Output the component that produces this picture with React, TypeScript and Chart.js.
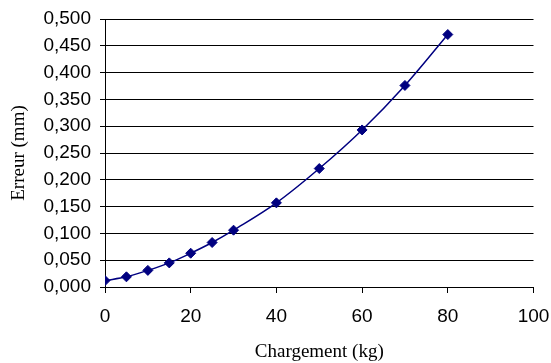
import { useEffect, useRef } from "react";
import { Chart, registerables } from "chart.js";

Chart.register(...registerables);

const loads = [0, 5, 10, 15, 20, 25, 30, 40, 50, 60, 70, 80];
const errors = [0.012, 0.019, 0.031, 0.045, 0.063, 0.083, 0.106, 0.157, 0.221, 0.293, 0.376, 0.471];
const xTitle = "Chargement (kg)";
const yTitle = "Erreur (mm)";

export default function App() {
  const ref = useRef<HTMLCanvasElement | null>(null);
  useEffect(() => {
    if (!ref.current) return;
    const navy = "#000080";
    const chart = new Chart(ref.current, {
      type: "line",
      data: {
        datasets: [
          {
            data: loads.map((x, i) => ({ x, y: errors[i] })),
            borderColor: navy,
            backgroundColor: navy,
            borderWidth: 1.5,
            tension: 0.35,
            pointStyle: "rectRot",
            pointRadius: 5,
            pointBorderWidth: 1,
            pointBackgroundColor: navy,
            pointBorderColor: navy,
          },
        ],
      },
      options: {
        responsive: false,
        animation: false,
        layout: { padding: { left: 0, top: 19, right: 17.5, bottom: 0 } },
        plugins: { legend: { display: false }, tooltip: { enabled: false } },
        scales: {
          x: {
            type: "linear",
            min: 0,
            max: 100,
            ticks: {
              stepSize: 20,
              color: "#000",
              padding: 12,
              font: { family: "'Liberation Sans', Arial, sans-serif", size: 19 },
            },
            grid: { drawOnChartArea: false, drawTicks: true, tickLength: 6, color: "#000" },
            border: { display: true, color: "#000", width: 1 },
            title: {
              display: true,
              text: xTitle,
              color: "#000",
              padding: { top: 0, bottom: 0 },
              font: { family: "'Liberation Serif', 'Times New Roman', serif", size: 19 },
            },
            afterFit: (s: any) => {
              s.height = 76;
              s.paddingLeft = 0;
              s.paddingRight = 0;
            },
          },
          y: {
            min: 0,
            max: 0.5,
            ticks: {
              stepSize: 0.05,
              color: "#000",
              padding: 9,
              font: { family: "'Liberation Sans', Arial, sans-serif", size: 19 },
              callback: (v: any) => Number(v).toFixed(3).replace(".", ","),
            },
            grid: { drawTicks: true, tickLength: 5, color: "#000" },
            border: { display: true, color: "#000", width: 1 },
            title: {
              display: true,
              text: yTitle,
              color: "#000",
              padding: { top: 8, bottom: 0 },
              font: { family: "'Liberation Serif', 'Times New Roman', serif", size: 19 },
            },
            afterFit: (s: any) => {
              s.width = 105;
              s.paddingTop = 0;
              s.paddingBottom = 0;
            },
          },
        },
      },
    });
    return () => chart.destroy();
  }, []);
  return (
    <div style={{ position: "fixed", left: 0, top: 0, width: 551, height: 363, background: "#fff" }}>
      <canvas ref={ref} width={551} height={363} />
    </div>
  );
}
